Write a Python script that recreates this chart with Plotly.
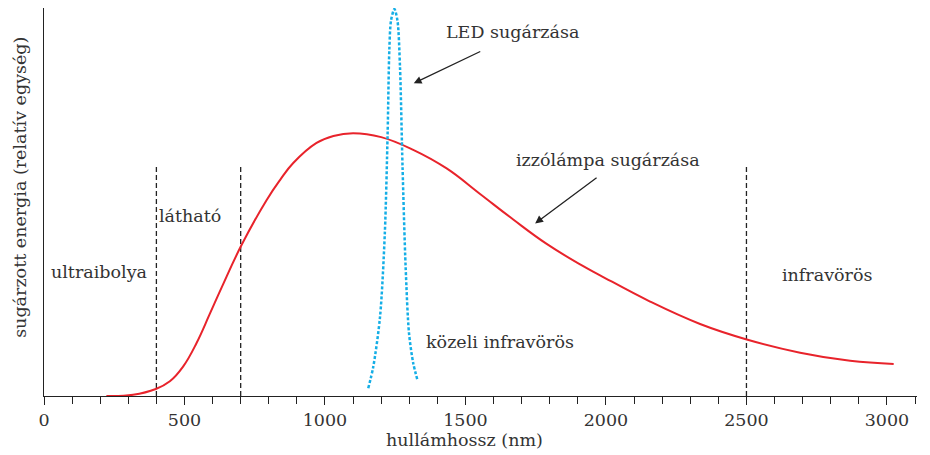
import plotly.graph_objects as go

# izzólámpa (incandescent lamp) spectrum, relative units
lamp_nm = [222, 317, 398, 448, 495, 543, 590, 632, 703, 792, 840, 887, 970, 1030, 1100,
           1200, 1314, 1433, 1552, 1670, 1789, 1908, 1979, 2157, 2335, 2501, 2691,
           2869, 3024]
lamp_val = [0.0, 0.003, 0.018, 0.038, 0.076, 0.137, 0.212, 0.280, 0.39, 0.506, 0.558,
            0.602, 0.654, 0.672, 0.679, 0.669, 0.636, 0.588, 0.522, 0.456, 0.393,
            0.340, 0.312, 0.244, 0.186, 0.146, 0.112, 0.091, 0.083]

# LED spectrum
led_nm = [1154, 1172, 1196, 1213, 1223, 1229, 1235, 1247, 1258, 1267, 1276, 1287,
          1299, 1314, 1330]
led_val = [0.02, 0.076, 0.205, 0.421, 0.68, 0.894, 0.97, 1.0, 0.97, 0.85, 0.593,
           0.334, 0.163, 0.085, 0.039]

# region boundaries (nm)
boundaries = [400, 700, 2500]
boundary_top = 0.592

region_labels = ["ultraibolya", "látható", "közeli infravörös", "infravörös"]
region_x = [195, 520, 1623, 2787]
region_y = [0.32, 0.465, 0.14, 0.313]

SERIF = "DejaVu Serif"
TXT = "#333333"
FS = 17.5

fig = go.Figure()

for b in boundaries:
    fig.add_trace(go.Scatter(
        x=[b, b], y=[0, boundary_top], mode='lines',
        line=dict(color='#222222', width=1.3, dash='5px,3px'),
        showlegend=False, hoverinfo='skip'
    ))

fig.add_trace(go.Scatter(
    x=lamp_nm, y=lamp_val, mode='lines', name='izzólámpa',
    line=dict(color='#e8232b', width=2, shape='spline', smoothing=1.2),
    showlegend=False
))

fig.add_trace(go.Scatter(
    x=led_nm, y=led_val, mode='lines', name='LED',
    line=dict(color='#14aee6', width=2.5, dash='3px,2px', shape='spline', smoothing=0.8),
    showlegend=False
))

for txt, x, y in zip(region_labels, region_x, region_y):
    fig.add_annotation(x=x, y=y, text=txt, showarrow=False,
                       font=dict(family=SERIF, size=FS, color=TXT))

# arrow labels
fig.add_annotation(x=1669, y=0.94, text="LED sugárzása", showarrow=False,
                   font=dict(family=SERIF, size=FS, color=TXT))
fig.add_annotation(x=1316, y=0.808, ax=1558, ay=0.892, axref='x', ayref='y',
                   text="", showarrow=True, arrowhead=2, arrowsize=1.2,
                   arrowwidth=1.3, arrowcolor='#222222')

fig.add_annotation(x=2008, y=0.61, text="izzólámpa sugárzása", showarrow=False,
                   font=dict(family=SERIF, size=FS, color=TXT))
fig.add_annotation(x=1748, y=0.446, ax=1972, ay=0.567, axref='x', ayref='y',
                   text="", showarrow=True, arrowhead=2, arrowsize=1.2,
                   arrowwidth=1.3, arrowcolor='#222222')

# axis titles
fig.add_annotation(x=1498, yref='paper', y=-0.113, yanchor='middle',
                   text="hullámhossz (nm)", showarrow=False,
                   font=dict(family=SERIF, size=FS, color=TXT))
fig.add_annotation(xref='paper', x=-0.0275, xanchor='center', yref='paper', y=0.539,
                   yanchor='middle', text="sugárzott energia (relatív egység)",
                   showarrow=False, textangle=-90,
                   font=dict(family=SERIF, size=FS, color=TXT))

fig.update_layout(
    width=930, height=455,
    margin=dict(l=36, r=21, t=0, b=67),
    plot_bgcolor='white', paper_bgcolor='white',
    font=dict(family=SERIF, size=FS, color=TXT),
    xaxis=dict(
        range=[0, 3107], showgrid=False, zeroline=False, automargin=False,
        showline=True, linecolor='#222222', linewidth=1.3,
        tickmode='linear', tick0=0, dtick=500,
        ticks='outside', ticklen=8, tickwidth=1.3, tickcolor='#222222',
        minor=dict(dtick=100, ticks='outside', ticklen=7, tickwidth=1.3, tickcolor='#222222'),
        tickfont=dict(family=SERIF, size=FS, color=TXT)
    ),
    yaxis=dict(
        range=[0, 1.0026], showgrid=False, zeroline=False, automargin=False,
        showline=True, linecolor='#222222', linewidth=1.3,
        showticklabels=False, ticks=''
    )
)

fig.write_html("out.html")
